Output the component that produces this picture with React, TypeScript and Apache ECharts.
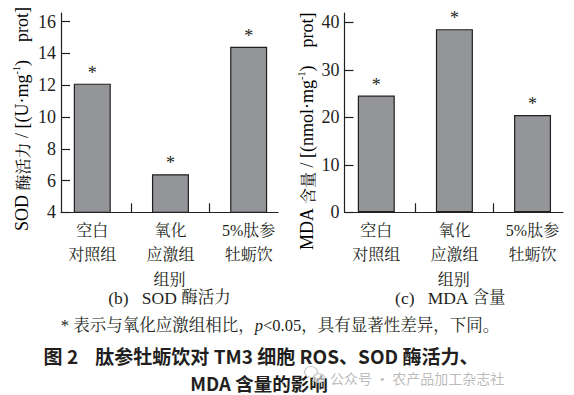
import React, { useEffect, useRef } from "react";
import * as echarts from "echarts";

const categories = ["空白\n对照组", "氧化\n应激组", "5%肽参\n牡蛎饮"];
const sodValues = [12.1, 6.4, 14.42];
const mdaValues = [24.6, 38.6, 20.5];
const sodTicks = [4, 6, 8, 10, 12, 14, 16];
const mdaTicks = [0, 10, 20, 30, 40];
const marks = ["*", "*", "*"];

const SERIF = "'Liberation Serif', 'Noto Serif CJK SC', 'Noto Sans CJK SC', serif";
const SANS = "'Noto Sans CJK SC', 'Noto Sans', sans-serif";
const INK = "#231f20";

export default function App() {
  const ref = useRef<HTMLDivElement>(null);
  useEffect(() => {
    if (!ref.current) return;
    const chart = echarts.init(ref.current, null, { renderer: "svg" });

    const xAxisBase = (gridIndex: number, min: number, max: number) => ({
      type: "value",
      gridIndex,
      min,
      max,
      name: "组别",
      nameLocation: "middle",
      nameGap: 54,
      nameTextStyle: { fontFamily: SERIF, fontSize: 16, color: INK },
      axisLine: { show: true, onZero: false, lineStyle: { color: INK, width: 1.2 } },
      axisTick: { show: true, inside: true, length: 9, customValues: [0.5, 1.5], lineStyle: { color: INK, width: 1.2 } },
      axisLabel: {
        show: true,
        customValues: [0, 1, 2],
        formatter: (v: number) => categories[Math.round(v)] ?? "",
        fontFamily: SERIF,
        fontSize: 16,
        lineHeight: 24,
        color: INK,
        margin: 6,
      },
      splitLine: { show: false },
    });

    const yAxisBase = (gridIndex: number, min: number, max: number, ticks: number[]) => ({
      type: "value",
      gridIndex,
      min,
      max,
      axisLine: { show: true, onZero: false, lineStyle: { color: INK, width: 1.2 } },
      axisTick: { show: true, inside: true, length: 9, customValues: ticks, lineStyle: { color: INK, width: 1.2 } },
      axisLabel: {
        show: true,
        customValues: ticks,
        fontFamily: SERIF,
        fontSize: 18,
        color: INK,
        margin: 5,
      },
      splitLine: { show: false },
    });

    const barSeries = (idx: number, values: number[]) => ({
      type: "bar",
      xAxisIndex: idx,
      yAxisIndex: idx,
      barWidth: 37,
      data: values.map((v, i) => [i, v]),
      itemStyle: { color: "#939598", borderColor: "#231f20", borderWidth: 1.2 },
      label: {
        show: true,
        position: "top",
        distance: 2,
        formatter: (p: any) => marks[p.dataIndex],
        fontFamily: SERIF,
        fontSize: 18,
        color: INK,
      },
    });

    const rotName = (x: number, y: number, latin: string, cjk: string, unit: string) => ({
      type: "text",
      x,
      y,
      rotation: Math.PI / 2,
      style: {
        text: `{t|${latin} }{c|${cjk}}{t| / [(${unit}·mg}{s|-1}{t|)    prot]}`,
        align: "center",
        verticalAlign: "middle",
        rich: {
          t: { fontFamily: SERIF, fontSize: 18, color: INK, lineHeight: 20, verticalAlign: "bottom" },
          c: { fontFamily: SERIF, fontSize: 16, color: INK, lineHeight: 20, verticalAlign: "bottom" },
          s: { fontFamily: SERIF, fontSize: 10, color: INK, lineHeight: 20, verticalAlign: "top" },
        },
      },
    });

    chart.setOption({
      animation: false,
      backgroundColor: "#ffffff",
      grid: [
        { left: 61, top: 13, width: 217, height: 199.3, containLabel: false },
        { left: 344.5, top: 13, width: 218.5, height: 199.3, containLabel: false },
      ],
      xAxis: [xAxisBase(0, -0.4, 2.375), xAxisBase(1, -0.407, 2.39)],
      yAxis: [yAxisBase(0, 4, 16.55, sodTicks), yAxisBase(1, 0, 42, mdaTicks)],
      series: [barSeries(0, sodValues), barSeries(1, mdaValues)],
      graphic: [
        rotName(21, 119, "SOD", "酶活力", "U"),
        rotName(306, 131.5, "MDA", "含量", "nmol"),
        {
          type: "text",
          x: 169.5,
          y: 297.5,
          style: {
            text: "{t|(b)   SOD }{c|酶活力}",
            align: "center",
            verticalAlign: "middle",
            rich: {
              t: { fontFamily: SERIF, fontSize: 17.5, fill: INK },
              c: { fontFamily: SERIF, fontSize: 16.5, fill: INK },
            },
          },
        },
        {
          type: "text",
          x: 450,
          y: 297.5,
          style: {
            text: "{t|(c)   MDA }{c|含量}",
            align: "center",
            verticalAlign: "middle",
            rich: {
              t: { fontFamily: SERIF, fontSize: 17.5, fill: INK },
              c: { fontFamily: SERIF, fontSize: 16.5, fill: INK },
            },
          },
        },
        {
          type: "text",
          x: 280,
          y: 325,
          style: {
            text: "{a|* 表示与氧化应激组相比，}{i|p}{a|<0.05，具有显著性差异，下同。}",
            align: "center",
            verticalAlign: "middle",
            rich: {
              a: { fontFamily: SERIF, fontSize: 16.5, fill: INK },
              i: { fontFamily: SERIF, fontSize: 16.5, fontStyle: "italic", fill: INK },
            },
          },
        },
        {
          type: "text",
          x: 261,
          y: 355,
          style: { text: "图 2    肽参牡蛎饮对 TM3 细胞 ROS、SOD 酶活力、", fontFamily: SANS, fontSize: 19, lineHeight: 19, fontWeight: "bold", fill: "#231f20", align: "center", verticalAlign: "middle" },
        },
        {
          type: "text",
          x: 259,
          y: 383,
          style: { text: "MDA 含量的影响", fontFamily: SANS, fontSize: 18.5, lineHeight: 19, fontWeight: "bold", fill: "#231f20", align: "center", verticalAlign: "middle" },
        },
        { type: "ellipse", shape: { cx: 311, cy: 372, rx: 6.5, ry: 5.5 }, style: { fill: "rgba(255,255,255,0.6)", stroke: "#c9c9c9", lineWidth: 1.2 } },
        { type: "ellipse", shape: { cx: 319, cy: 378, rx: 5.5, ry: 4.5 }, style: { fill: "rgba(255,255,255,0.6)", stroke: "#c9c9c9", lineWidth: 1.2 } },
        {
          type: "text",
          x: 330,
          y: 378,
          style: { text: "公众号 · 农产品加工杂志社", fontFamily: SANS, fontSize: 14, lineHeight: 14, fill: "rgba(165,165,165,0.75)", align: "left", verticalAlign: "middle" },
        },
      ],
    });
    return () => chart.dispose();
  }, []);
  return <div ref={ref} style={{ position: "absolute", left: 0, top: 0, width: 574, height: 395 }} />;
}
